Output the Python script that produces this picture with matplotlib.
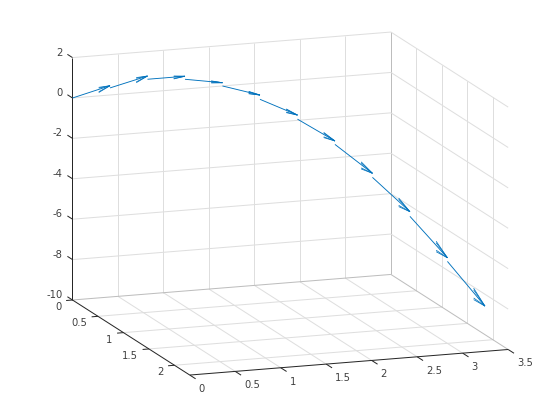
import matplotlib
matplotlib.use("Agg")
import matplotlib.pyplot as plt
import numpy as np
from mpl_toolkits.mplot3d import proj3d

# arrow tails and tips
x_tail = [0.0, 0.295, 0.59, 0.885, 1.18, 1.475, 1.77, 2.065, 2.36, 2.655, 2.95]
y_tail = [0.0, 0.209, 0.418, 0.627, 0.836, 1.045, 1.254, 1.463, 1.672, 1.881, 2.09]
z_tail = [0.0, 0.73, 1.39, 1.62, 1.52, 1.09, 0.34, -0.68, -2.08, -3.78, -5.78]
x_tip = [0.295, 0.59, 0.885, 1.18, 1.475, 1.77, 2.065, 2.36, 2.655, 2.95, 3.245]
y_tip = [0.209, 0.418, 0.627, 0.836, 1.045, 1.254, 1.463, 1.672, 1.881, 2.09, 2.299]
z_tip = [0.84, 1.55, 1.77, 1.68, 1.30, 0.54, -0.51, -1.88, -3.55, -5.60, -7.76]

x_ticks = [0, 0.5, 1, 1.5, 2, 2.5, 3, 3.5]
y_ticks = [0, 0.5, 1, 1.5, 2]
z_ticks = [-10, -8, -6, -4, -2, 0, 2]
x_labels = ["0", "0.5", "1", "1.5", "2", "2.5", "3", "3.5"]
y_labels = ["0", "0.5", "1", "1.5", "2"]
z_labels = ["-10", "-8", "-6", "-4", "-2", "0", "2"]

xmax, ymax, zmin, zmax = 3.5, 2.3, -10, 2
grid_c = "#dedede"
edge_c = "#bdbdbd"
axis_c = "#262626"
text_c = "#404040"
blue = "#0072bd"

fig = plt.figure(figsize=(5.6, 4.2), dpi=100)
ax = fig.add_axes([0, -1 / 6, 1, 4 / 3], projection="3d", proj_type="ortho")
ax.set_axis_off()
ax.patch.set_alpha(0)
ax.set_xlim(0, xmax)
ax.set_ylim(ymax, 0)
ax.set_zlim(zmin, zmax)
ax.view_init(elev=13.1, azim=-109.5)
aspect = (337.8, 351.3, 248.9)
ax.set_box_aspect(aspect)


def to_px(x, y, z):
    px, py, _ = proj3d.proj_transform(x, y, z, ax.get_proj())
    return ax.transData.transform((px, py))


# fit the box onto the reference: z edge 242.4 px long, origin corner at (72.5, 300)
ax.apply_aspect()
scale = 242.4 / abs(to_px(0, 0, zmax)[1] - to_px(0, 0, zmin)[1])
ax.set_box_aspect(aspect, zoom=scale)
ax.apply_aspect()
corner = to_px(0, 0, zmin)
pos = ax.get_position()
ax.set_position([pos.x0 + (72.5 - corner[0]) / 560, pos.y0 + (120 - corner[1]) / 420, pos.width, pos.height])
ax.apply_aspect()


def seg(x, y, z, color, lw=0.72):
    ax.plot(x, y, z, color=color, lw=lw, clip_on=False, solid_capstyle="butt")


# walls and floor grid
for v in x_ticks[1:-1]:
    seg([v, v], [0, 0], [zmin, zmax], grid_c)
    seg([v, v], [0, ymax], [zmin, zmin], grid_c)
seg([xmax, xmax], [0, 0], [zmin, zmax], edge_c)
for v in y_ticks[1:]:
    seg([xmax, xmax], [v, v], [zmin, zmax], grid_c)
    seg([0, xmax], [v, v], [zmin, zmin], grid_c)
for v in z_ticks[1:]:
    seg([0, xmax], [0, 0], [v, v], grid_c)
    seg([xmax, xmax], [0, ymax], [v, v], grid_c)
seg([0, xmax], [0, 0], [zmin, zmin], edge_c)
seg([xmax, xmax], [0, ymax], [zmin, zmin], edge_c)

# axis lines and ticks
seg([0, 0], [0, 0], [zmin, zmax], axis_c)
seg([0, 0], [0, ymax], [zmin, zmin], axis_c)
seg([0, xmax], [ymax, ymax], [zmin, zmin], axis_c)
for v in x_ticks:
    seg([v, v], [ymax, ymax + 0.115], [zmin, zmin], axis_c)
for v in y_ticks:
    seg([0, -0.07], [v, v], [zmin, zmin], axis_c)
for v in z_ticks:
    seg([0, 0], [0, -0.1], [v, v], axis_c)

# arrows, shaft plus four barbs (offsets fitted to the head shapes in the picture)
for i in range(len(x_tail)):
    tail = np.array([x_tail[i], y_tail[i], z_tail[i]])
    tip = np.array([x_tip[i], y_tip[i], z_tip[i]])
    d = tip - tail
    size = np.linalg.norm(d)
    seg([tail[0], tip[0]], [tail[1], tip[1]], [tail[2], tip[2]], blue, lw=0.65)
    base = tip - 0.3 * d
    for dz in [0.11, 0.07, -0.13, -0.17]:
        end = base + np.array([0, 0, dz * size])
        seg([end[0], tip[0]], [end[1], tip[1]], [end[2], tip[2]], blue, lw=0.55)


def label(s, x, y, z, dx, dy, ha):
    ax.annotate(s, xy=proj3d.proj_transform(x, y, z, ax.get_proj())[:2], xytext=(dx, dy),
                textcoords="offset pixels", ha=ha, va="center",
                fontsize=7.2, color=text_c, annotation_clip=False)


for s, v in zip(x_labels, x_ticks):
    label(s, v, ymax, zmin, 9, -14, "left")
for s, v in zip(y_labels, y_ticks):
    label(s, 0, v, zmin, -11, -7, "right")
for s, v in zip(z_labels, z_ticks):
    label(s, 0, 0, v, -10, 5, "right")

fig.savefig("out.png", dpi=100)
